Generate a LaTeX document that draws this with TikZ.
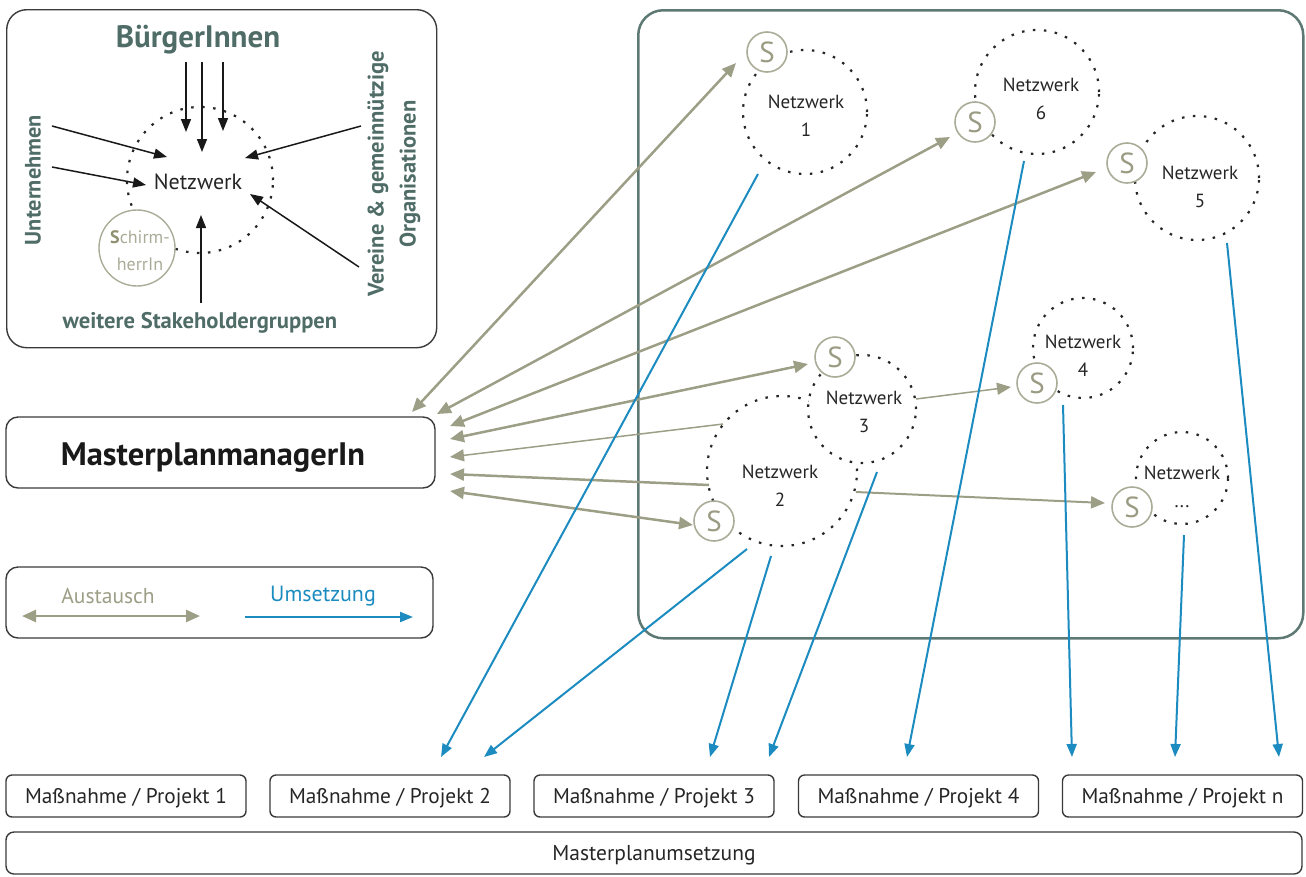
\documentclass[tikz,border=0pt]{standalone}
\usepackage{fontspec}
\setmainfont{PT Sans}
\usetikzlibrary{arrows.meta}
\definecolor{cTeal}{HTML}{4F6C67}
\definecolor{cFrame}{HTML}{5E7874}
\definecolor{cOlive}{HTML}{9C9E86}
\definecolor{cSbord}{HTML}{ABAC98}
\definecolor{cSlet}{HTML}{9A9B82}
\definecolor{cSchS}{HTML}{8F906F}
\definecolor{cBlue}{HTML}{1B8BC0}
\definecolor{cBox}{HTML}{3A3A3A}
\newcommand\fsz[2]{\fontsize{#1pt}{#2pt}\selectfont}
\begin{document}
\begin{tikzpicture}[x=1pt,y=-1pt,
 boxed/.style={draw=cBox, line width=1.4pt, inner sep=0pt},
 netc/.style={circle, draw=black!85, fill=white, line width=2.2pt, dash pattern=on 2.5pt off 8.5pt, inner sep=0pt},
 nettext/.style={align=center, font=\fsz{19}{28}, text=black!85},
 sc/.style={circle, draw=cSbord, fill=white, line width=1.6pt, minimum size=40pt, inner sep=0pt, font=\fsz{29}{30}, text=cSlet},
 tipA/.tip={Triangle[length=14pt,width=12pt]},
 aus/.style={draw=cOlive, line width=2.5pt, -tipA},
 ausb/.style={draw=cOlive, line width=2.5pt, tipA-tipA},
 ums/.style={draw=cBlue, line width=2pt, -{Triangle[length=13pt,width=10pt]}},
 inarr/.style={draw=black!90, line width=1.5pt, -{Triangle[length=13pt,width=10pt]}},
 proj/.style={boxed, rounded corners=6pt, minimum width=240pt, minimum height=42pt, text depth=0pt, font=\fsz{21.3}{24}, text=black!85},
]
\useasboundingbox (0,0) rectangle (1306,876);

% frames
\node[boxed, rounded corners=20pt, minimum width=430pt, minimum height=338pt, anchor=north west] (stake) at (6,9) {};
\node[draw=cFrame, line width=2.5pt, rounded corners=25pt, minimum width=665pt, minimum height=628pt, anchor=north west, inner sep=0pt] (netarea) at (637,9) {};

% stakeholder box
\node[netc, minimum size=146pt] (snet) at (200,180) {};
\node[font=\fsz{22}{26}, text=black!85] (snett) at (198,182) {Netzwerk};
\node[font=\fsz{31}{34}\bfseries, text=cTeal] (buerger) at (198,40) {BürgerInnen};
\node[font=\fsz{22.3}{26}\bfseries, text=cTeal, rotate=90] (untern) at (33,180) {Unternehmen};
\node[font=\fsz{22.5}{32}\bfseries, text=cTeal, rotate=90, align=center] (verein) at (394,174) {Vereine \& gemeinnützige\\Organisationen};
\node[font=\fsz{22.6}{26}\bfseries, text=cTeal] (weitere) at (200,323) {weitere Stakeholdergruppen};
\node[circle, draw=cSbord, fill=white, line width=1.4pt, minimum size=76pt, inner sep=0pt] (schirm) at (137,248) {};
\node[align=center, font=\fsz{18}{27}, text=cSbord] (schirmt) at (140,251) {{\bfseries\color{cSchS}S}chirm-\\herrIn};

\coordinate (b1s) at (186,62);  \coordinate (b1e) at (186,132);
\coordinate (b2s) at (202,62);  \coordinate (b2e) at (202,152);
\coordinate (b3s) at (223,62);  \coordinate (b3e) at (223,131);
\coordinate (u1s) at (52,126);  \coordinate (u1e) at (167,157);
\coordinate (u2s) at (52,167);  \coordinate (u2e) at (146,185);
\coordinate (v1s) at (361,126); \coordinate (v1e) at (245,158);
\coordinate (v2s) at (359,267); \coordinate (v2e) at (250,194);
\coordinate (ws)  at (201,303); \coordinate (we)  at (201,215);
\foreach \a in {b1,b2,b3,u1,u2,v1,v2,w}{\draw[inarr] (\a s) -- (\a e);}

% networks
\node[netc, minimum size=124pt] (n1) at (805,112) {};
\node[netc, minimum size=124pt] (n6) at (1037,92) {};
\node[netc, minimum size=124pt] (n5) at (1197,178) {};
\node[netc, minimum size=150pt] (n2) at (782,471) {};
\node[netc, minimum size=108pt] (n3) at (862,409) {};
\node[netc, minimum size=100pt] (n4) at (1083,348) {};
\node[netc, minimum size=92pt]  (nx) at (1182,478) {};

\node[nettext] (n1t) at (806,116) {Netzwerk\\1};
\node[nettext] (n6t) at (1041,99) {Netzwerk\\6};
\node[nettext] (n5t) at (1200,187) {Netzwerk\\5};
\node[nettext] (n3t) at (864,412) {Netzwerk\\3};
\node[nettext] (n2t) at (780,486) {Netzwerk\\2};
\node[nettext] (n4t) at (1083,356) {Netzwerk\\4};
\node[nettext] (nxt) at (1182,487) {Netzwerk\\...};

\node[sc] (s1) at (767,52) {S};
\node[sc] (s6) at (975,122) {S};
\node[sc] (s5) at (1127,163) {S};
\node[sc] (s3) at (835,357) {S};
\node[sc] (s2) at (714,521) {S};
\node[sc] (s4) at (1037,383) {S};
\node[sc] (sx) at (1132,507) {S};

% manager, legend, projects
\node[boxed, rounded corners=12pt, minimum width=429pt, minimum height=71pt] (mgr) at (220.5,452.5) {};
\node[font=\fsz{32.5}{36}\bfseries, text=black!90] (mgrt) at (213,458) {MasterplanmanagerIn};

\node[boxed, rounded corners=12pt, minimum width=427pt, minimum height=71pt] (legend) at (219.5,602.5) {};
\node[font=\fsz{21.5}{24}, text=cOlive] (aust) at (108,596) {Austausch};
\node[font=\fsz{22}{24}, text=cBlue] (umst) at (323,596) {Umsetzung};
\coordinate (la1) at (22,616); \coordinate (la2) at (200,616);
\coordinate (lu1) at (245,617); \coordinate (lu2) at (413,617);
\draw[ausb] (la1) -- (la2);
\draw[ums] (lu1) -- (lu2);

\node[proj] (p1) at (126,796) {Maßnahme / Projekt 1};
\node[proj] (p2) at (390,796) {Maßnahme / Projekt 2};
\node[proj] (p3) at (654,796) {Maßnahme / Projekt 3};
\node[proj] (p4) at (918.5,796) {Maßnahme / Projekt 4};
\node[proj] (p5) at (1182.5,796) {Maßnahme / Projekt n};
\node[boxed, rounded corners=8pt, minimum width=1296pt, minimum height=42pt, text depth=0pt, font=\fsz{21.5}{24}, text=black!85] (mpu) at (654,853) {Masterplanumsetzung};

% exchange arrows
\coordinate (a1m) at (412,412);  \coordinate (a1s) at (736,63);
\coordinate (a2m) at (437,414);  \coordinate (a2s) at (950,137);
\coordinate (a3m) at (450,426);  \coordinate (a3s) at (1096,172);
\coordinate (a4m) at (450,439);  \coordinate (a4s) at (808,364);
\coordinate (a5n) at (723,424);  \coordinate (a5m) at (450,457);
\coordinate (a6n) at (709,485);  \coordinate (a6m) at (450,474);
\coordinate (a7m) at (450,491);  \coordinate (a7s) at (693,525);
\coordinate (a8n) at (916,399);  \coordinate (a8s) at (1011,387);
\coordinate (a9n) at (856,492);  \coordinate (a9s) at (1105,503);
\draw[ausb] (a1m) -- (a1s);
\draw[ausb] (a2m) -- (a2s);
\draw[ausb] (a3m) -- (a3s);
\draw[ausb] (a4m) -- (a4s);
\draw[aus, line width=1.5pt] (a5n) -- (a5m);
\draw[aus] (a6n) -- (a6m);
\draw[ausb] (a7m) -- (a7s);
\draw[aus, line width=1.5pt] (a8n) -- (a8s);
\draw[aus, line width=2pt] (a9n) -- (a9s);

% implementation arrows
\coordinate (r1s) at (758,174);  \coordinate (r1e) at (441,757);
\coordinate (r2s) at (747,549);  \coordinate (r2e) at (484,757);
\coordinate (r3s) at (771,556);  \coordinate (r3e) at (710,757);
\coordinate (r4s) at (877,472);  \coordinate (r4e) at (769,757);
\coordinate (r5s) at (1024,161); \coordinate (r5e) at (907,757);
\coordinate (r6s) at (1063,405); \coordinate (r6e) at (1072,757);
\coordinate (r7s) at (1184,535); \coordinate (r7e) at (1175,757);
\coordinate (r8s) at (1227,243); \coordinate (r8e) at (1279,757);
\foreach \r in {r1,r2,r3,r4,r5,r6,r7,r8}{\draw[ums] (\r s) -- (\r e);}
\end{tikzpicture}
\end{document}
